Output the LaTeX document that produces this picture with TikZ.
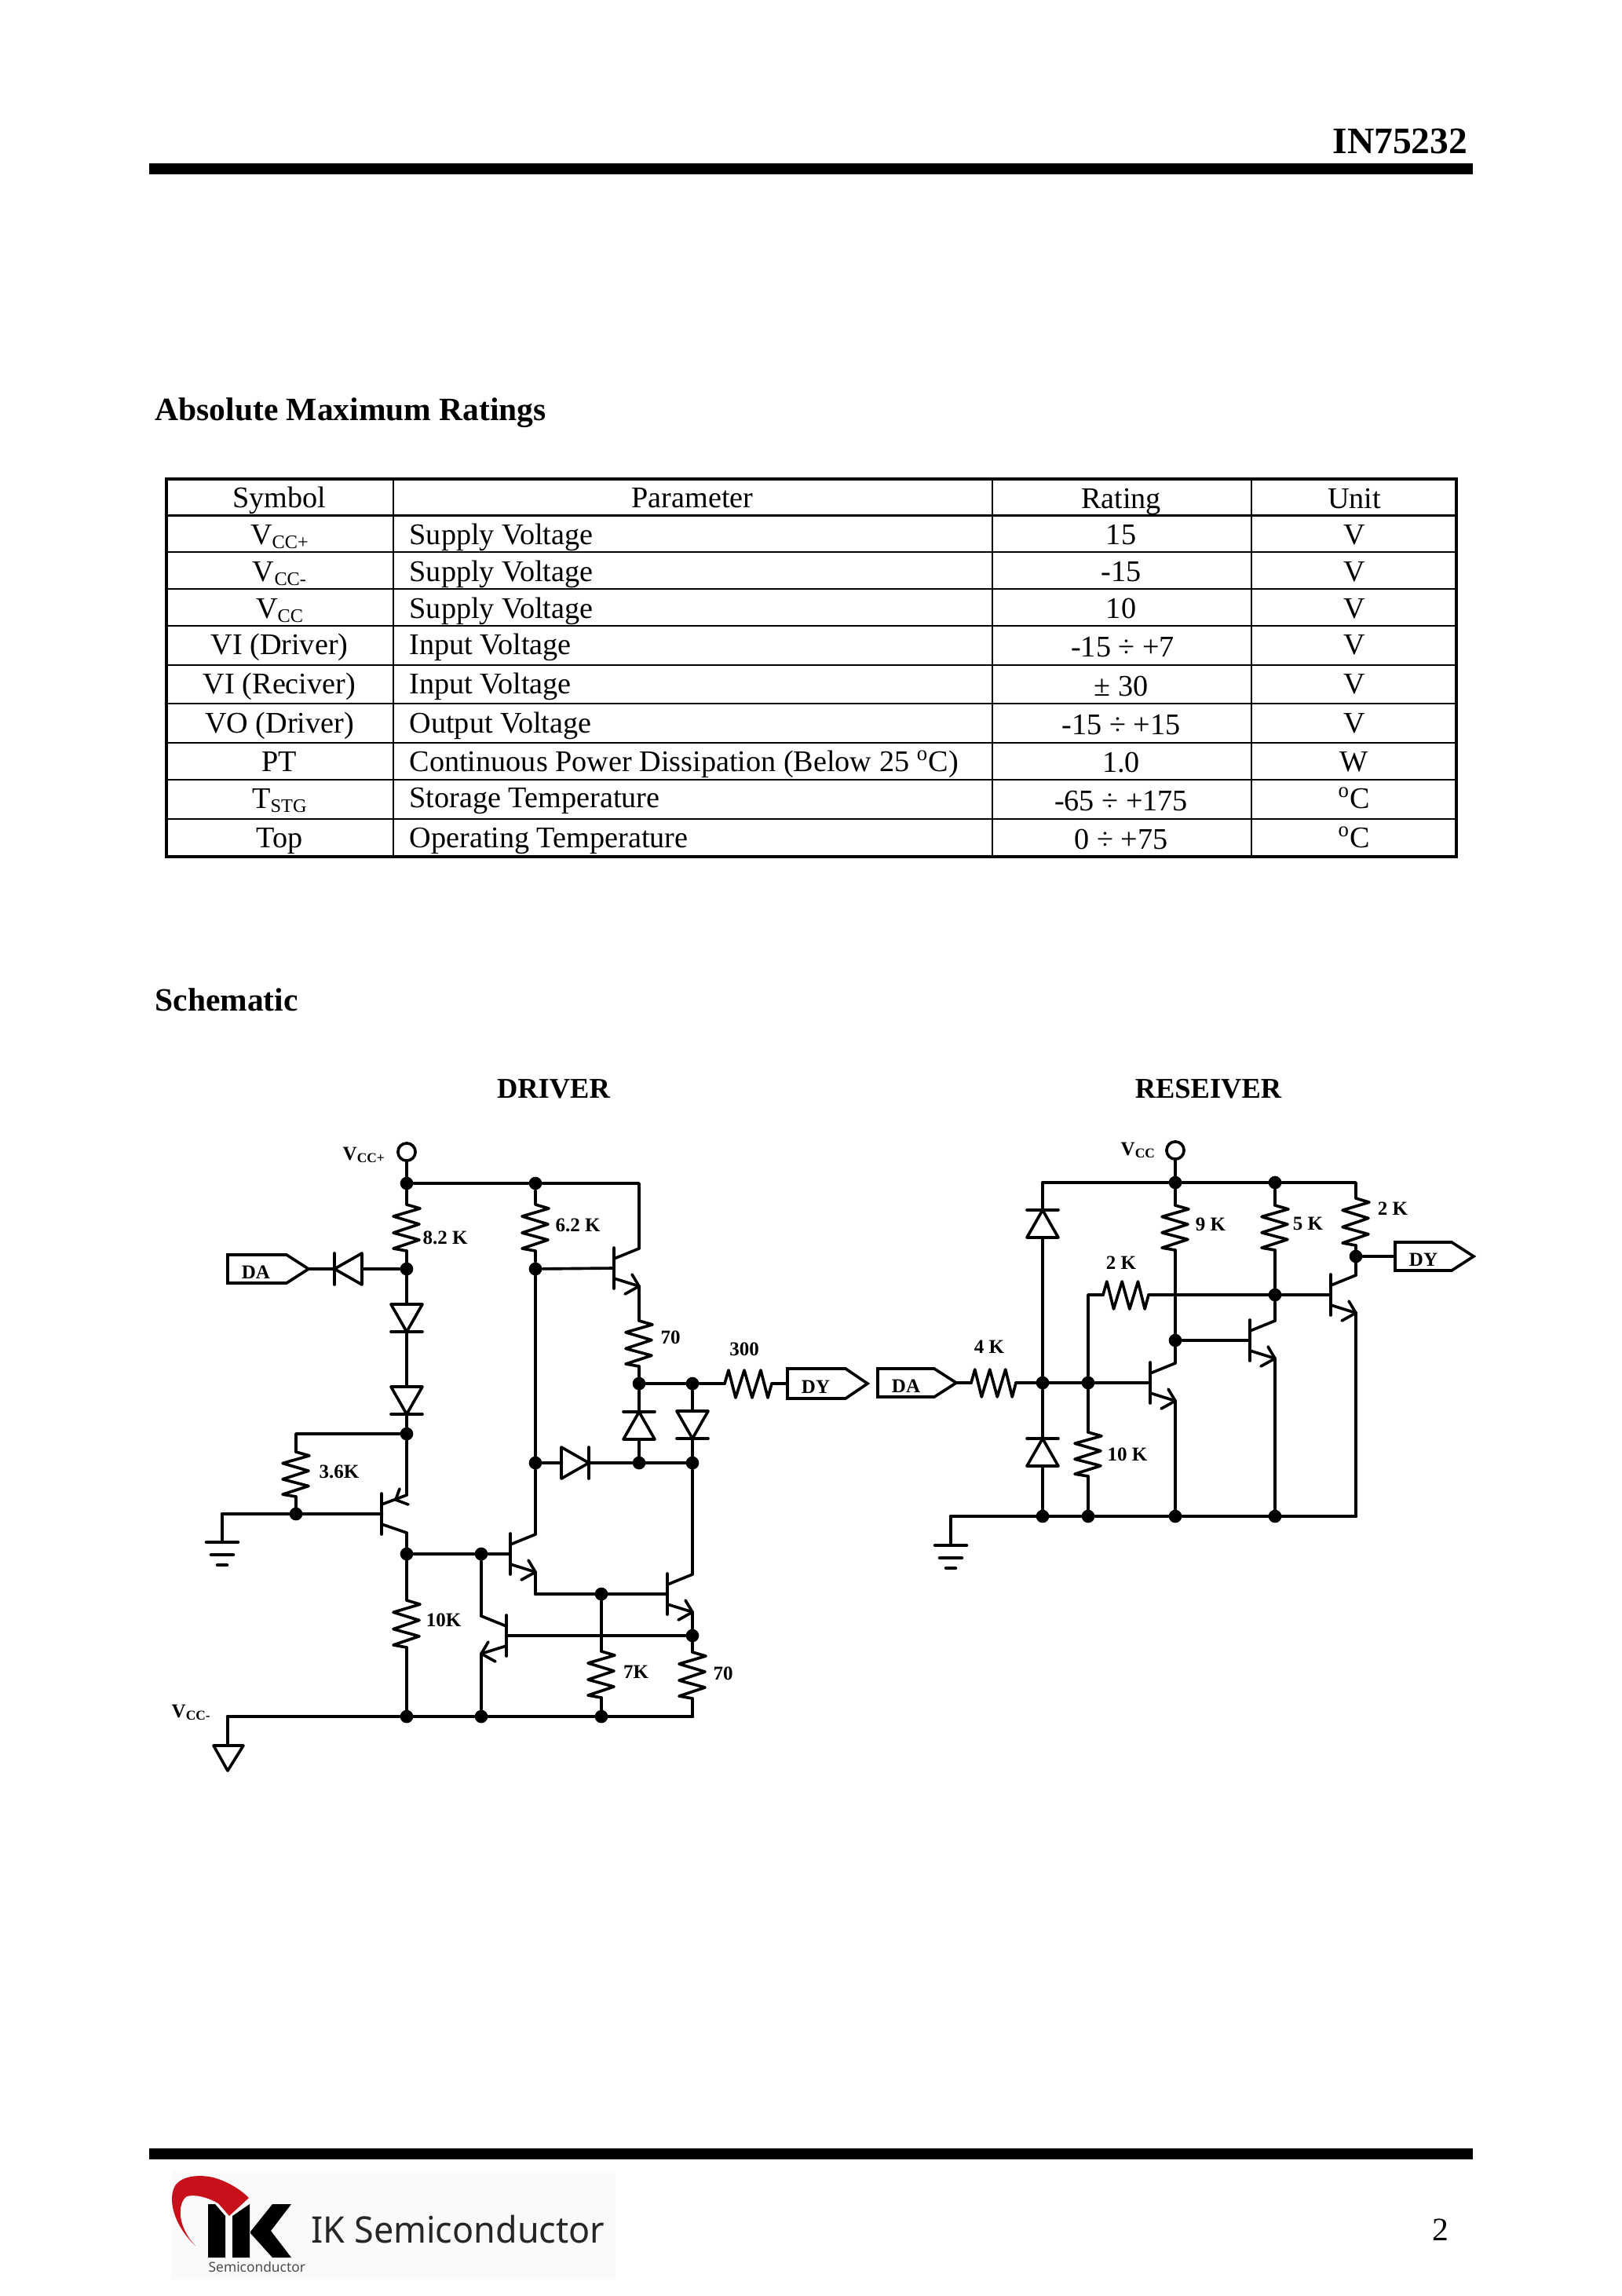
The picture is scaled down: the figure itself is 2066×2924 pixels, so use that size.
\documentclass[tikz,border=0pt]{standalone}
\usepackage{fontspec}
\setmainfont{Liberation Serif}
\newfontfamily\logofont{Noto Sans}
\definecolor{logored}{HTML}{C8101A}
\tikzset{
  wire/.style={line width=1.05pt,line cap=round,line join=round},
  bus/.style={line width=1.3pt,line cap=round,line join=round},
  dot/.style={circle,fill=black,inner sep=0pt,minimum size=4.8pt},
  term/.style={circle,draw,line width=1.05pt,fill=white,inner sep=0pt,minimum size=6.4pt},
  cell/.style={anchor=base,inner sep=0pt,font=\fontsize{11}{13}\selectfont},
  cellL/.style={cell,anchor=base west},
  lab/.style={anchor=base,inner sep=0pt,font=\fontsize{7.2}{9}\selectfont\bfseries},
  head/.style={anchor=base west,inner sep=0pt,font=\fontsize{11.95}{14}\selectfont\bfseries},
  sub/.style={anchor=base,inner sep=0pt,font=\fontsize{10.5}{12}\selectfont\bfseries},
  grid/.style={line width=0.85pt},
  frame/.style={line width=1.3pt}
}
\newcommand\lowr[1]{\raisebox{-1.5pt}{\fontsize{7}{8}\selectfont #1}}
\newcommand\lowb[1]{\raisebox{-1.1pt}{\fontsize{5}{6}\selectfont #1}}
% vertical resistor: name, x, ytop, ybottom
\newcommand\vres[4]{%
  \coordinate (#1-a) at (#2,#3);\coordinate (#1-b) at (#2,#4);
  \begin{scope}[shift={(#2,#3)},yscale=(#4-#3)/59]
    \draw[wire] (0,0)--(17,5)--(-17,15)--(16,25)--(-17,36)--(16,45)--(-17,56)--(0,59);
  \end{scope}}
% horizontal resistor: name, xleft, y, length
\newcommand\hres[4]{%
  \begin{scope}[shift={(#2,#3)},xscale=#4/60]
    \coordinate (#1-a) at (0,0);\coordinate (#1-b) at (60,0);
    \draw[wire] (0,0)--(5,-17)--(14,18)--(25,-17)--(35,18)--(46,-17)--(55,18)--(60,0);
  \end{scope}}
% diode: name, x, y of anode side, rotation
\newcommand\dio[4]{%
  \begin{scope}[shift={(#2,#3)},rotate=#4]
    \coordinate (#1-a) at (0,0);\coordinate (#1-k) at (35,0);
    \draw[wire] (0,-20)--(0,20)--(35,0)--cycle;
    \draw[wire] (35,-20)--(35,20);
  \end{scope}}
% npn: name, barx, y, xscale
\newcommand\bjt[4]{%
  \begin{scope}[shift={(#2,#3)},xscale=#4]
    \coordinate (#1-b) at (0,0);\coordinate (#1-c) at (32,-25);\coordinate (#1-e) at (32,23);
    \draw[wire] (0,-26)--(0,26);
    \draw[wire] (0,-12)--(#1-c);
    \draw[wire] (0,13)--(#1-e);
    \draw[wire] (23,8)--(#1-e)--(14,33);
  \end{scope}}
% pnp: name, barx, y
\newcommand\pnp[3]{%
  \begin{scope}[shift={(#2,#3)}]
    \coordinate (#1-b) at (0,0);\coordinate (#1-e) at (32,-24);\coordinate (#1-c) at (32,24);
    \draw[wire] (0,-26)--(0,26);
    \draw[wire] (0,-12)--(#1-e);
    \draw[wire] (0,13)--(#1-c);
    \draw[wire] (23,-32)--(18,-18)--(34,-12);
  \end{scope}}
% ground: name, x, y
\newcommand\gnd[3]{%
  \coordinate (#1-t) at (#2,#3);
  \begin{scope}[shift={(#2,#3)}]
    \draw[bus] (-20,0)--(20,0);
    \draw[bus] (-14,16)--(14,16);
    \draw[bus] (-6,29)--(6,29);
  \end{scope}}
% tag box: name, x, ytop, h, total width, text
\newcommand\tagbox[6]{%
  \begin{scope}[shift={(#2,#3)}]
    \coordinate (#1-w) at (0,#4/2);\coordinate (#1-e) at (#5,#4/2);
    \draw[wire,line join=miter] (0,0)--(#5-28,0)--(#5,#4/2)--(#5-28,#4)--(0,#4)--cycle;
    \node[lab] (#1-t) at (36,#4/2+12) {#6};
  \end{scope}}
\newcommand\tblcell[4]{\node[cell] (#1) at (#2,#3) {#4};}
\newcommand\tbll[3]{\node[cellL] (#1) at (521,#2) {#3};}
\begin{document}
\begin{tikzpicture}[x=0.288pt,y=-0.288pt]
\useasboundingbox (0,0) rectangle (2066,2924);
% page furniture
\fill (190,208) rectangle (1876,222);
\fill (190,2736) rectangle (1876,2750);
\node[anchor=base east,inner sep=0pt,font=\fontsize{13.7}{16}\selectfont\bfseries] (title) at (1870,195) {IN75232};
\node[head] (h1) at (197,535) {Absolute Maximum Ratings};
\node[head] (h2) at (197,1287) {Schematic};
\node[sub] (h3) at (705,1398) {DRIVER};
\node[sub] (h4) at (1539,1398) {RESEIVER};
% table
\draw[grid] (211,656.5)--(1855,656.5) (211,703)--(1855,703) (211,750)--(1855,750) (211,797)--(1855,797)
  (211,847)--(1855,847) (211,896)--(1855,896) (211,946)--(1855,946) (211,993)--(1855,993) (211,1043)--(1855,1043);
\draw[grid] (501,610)--(501,1091) (1264,610)--(1264,1091) (1594,610)--(1594,1091);
\draw[frame] (212,610) rectangle (1855,1091);
\tblcell{s0}{356}{646}{Symbol}
\tblcell{s1}{356}{693}{V\lowr{CC+}}
\tblcell{s2}{356}{740}{V\lowr{CC-}}
\tblcell{s3}{356}{787}{V\lowr{CC}}
\tblcell{s4}{356}{833}{VI (Driver)}
\tblcell{s5}{356}{883}{VI (Reciver)}
\tblcell{s6}{356}{933}{VO (Driver)}
\tblcell{s7}{356}{982}{PT}
\tblcell{s8}{356}{1029}{T\lowr{STG}}
\tblcell{s9}{356}{1079}{Top}
\tblcell{p0}{882}{646}{Parameter}
\tbll{p1}{693}{Supply Voltage}
\tbll{p2}{740}{Supply Voltage}
\tbll{p3}{787}{Supply Voltage}
\tbll{p4}{833}{Input Voltage}
\tbll{p5}{883}{Input Voltage}
\tbll{p6}{933}{Output Voltage}
\tbll{p7}{982}{Continuous Power Dissipation (Below 25 \textsuperscript{o}C)}
\tbll{p8}{1028}{Storage Temperature}
\tbll{p9}{1079}{Operating Temperature}
\tblcell{r0}{1428}{647}{Rating}
\tblcell{r1}{1428}{693}{15}
\tblcell{r2}{1428}{740}{-15}
\tblcell{r3}{1428}{787}{10}
\tblcell{r4}{1430}{836}{-15 ÷ +7}
\tblcell{r5}{1428}{886}{± 30}
\tblcell{r6}{1428}{935}{-15 ÷ +15}
\tblcell{r7}{1428}{983}{1.0}
\tblcell{r8}{1428}{1032}{-65 ÷ +175}
\tblcell{r9}{1428}{1081}{0 ÷ +75}
\tblcell{u0}{1725}{647}{Unit}
\tblcell{u1}{1725}{693}{V}
\tblcell{u2}{1725}{740}{V}
\tblcell{u3}{1725}{787}{V}
\tblcell{u4}{1725}{833}{V}
\tblcell{u5}{1725}{883}{V}
\tblcell{u6}{1725}{933}{V}
\tblcell{u7}{1725}{982}{W}
\tblcell{u8}{1725}{1029}{\textsuperscript{o}C}
\tblcell{u9}{1725}{1079}{\textsuperscript{o}C}
%% DRIVER
\node[term] (vp) at (518,1467) {};
\node[dot] (jA) at (518,1507) {};
\node[dot] (jB) at (682,1507) {};
\node[dot] (jC) at (518,1616) {};
\node[dot] (jD) at (682,1616) {};
\node[dot] (jG) at (518,1826) {};
\node[dot] (jH) at (377,1928) {};
\node[dot] (jI) at (518,1979) {};
\node[dot] (jJ) at (613,1979) {};
\node[dot] (jF) at (682,1863) {};
\node[dot] (jK) at (814,1863) {};
\node[dot] (jL) at (882,1863) {};
\node[dot] (jM) at (766,2030) {};
\node[dot] (jO) at (882,2083) {};
\node[dot] (jN) at (766,2186) {};
\node[dot] (jP) at (613,2186) {};
\node[dot] (jQ) at (518,2186) {};
\node[dot] (jR) at (814,1762) {};
\node[dot] (jS) at (882,1762) {};
\coordinate (cTop) at (814,1507);
\coordinate (cG) at (377,1826);
\coordinate (cGnd) at (283,1928);
\coordinate (cBusR) at (882,2186);
\coordinate (cVm) at (290,2186);
\coordinate (cTri) at (290,2223);
\vres{R82}{518}{1534}{1593}
\vres{R62}{682}{1534}{1593}
\vres{R36}{377}{1849}{1906}
\vres{R10}{518}{2038}{2098}
\vres{R7}{766}{2103}{2162}
\vres{R70}{882}{2104}{2163}
\vres{R70u}{814}{1682}{1740}
\hres{R300}{923}{1762}{60}
\tagbox{DA1}{290}{1598}{36}{103}{DA}
\tagbox{DY1}{1003}{1743}{38}{102}{DY}
\dio{d1}{461}{1616}{180}
\dio{d2}{518}{1661}{-90}
\dio{d3}{518}{1766}{-90}
\dio{d4}{715}{1863}{0}
\dio{d5}{814}{1833}{90}
\dio{d6}{882}{1797}{-90}
\pnp{Q1}{486}{1928}
\bjt{Q2}{650}{1979}{1}
\bjt{Q3}{850}{2030}{1}
\bjt{Q4}{645}{2083}{-1}
\bjt{Q5}{782}{1615}{1}
\gnd{G1}{283}{1964}
\draw[wire] (vp)--(jA)--(jB)--(cTop)--(Q5-c);
\draw[wire] (jA)--(R82-a) (R82-b)--(jC)--(d2-a) (d2-k)--(d3-a) (d3-k)--(jG)--(Q1-e);
\draw[wire] (jB)--(R62-a) (R62-b)--(jD)--(Q5-b);
\draw[wire] (DA1-e |- jC)--(d1-k) (d1-a)--(jC);
\draw[wire] (jG)--(cG)--(R36-a) (R36-b)--(jH);
\draw[bus] (cGnd)--(jH)--(Q1-b);
\draw[wire] (cGnd)--(G1-t);
\draw[wire] (Q1-c)--(jI)--(jJ)--(Q2-b);
\draw[wire] (jI)--(R10-a) (R10-b)--(jQ);
\draw[wire] (jD)--(jF)--(Q2-c);
\draw[bus] (jF)--(d4-a) (d4-k)--(jK)--(jL);
\draw[wire] (jL)--(Q3-c);
\draw[bus] (Q2-e |- jM)--(jM)--(Q3-b);
\draw[wire] (Q2-e)--(Q2-e |- jM);
\draw[wire] (jM)--(R7-a) (R7-b)--(jN);
\draw[wire] (Q3-e)--(jO)--(R70-a) (R70-b)--(cBusR);
\draw[bus] (jO)--(Q4-b);
\draw[wire] (jJ)--(Q4-c) (Q4-e)--(jP);
\draw[bus] (cVm)--(jQ)--(jP)--(jN)--(cBusR);
\draw[wire] (cVm)--(cTri);
\draw[wire] (272,2223)--(310,2223)--(290,2255)--cycle;
\draw[wire] (Q5-e)--(R70u-a) (R70u-b)--(jR)--(jS)--(R300-a) (R300-b)--(DY1-w);
\draw[wire] (jR)--(d5-k) (d5-a)--(jK);
\draw[wire] (jS)--(d6-a) (d6-k)--(jL);
\node[lab] (l82) at (567,1584) {8.2 K};
\node[lab] (l62) at (736,1568) {6.2 K};
\node[lab] (l70u) at (854,1711) {70};
\node[lab] (l300) at (948,1726) {300};
\node[lab] (l36) at (432,1882) {3.6K};
\node[lab] (l10) at (565,2071) {10K};
\node[lab] (l7) at (810,2137) {7K};
\node[lab] (l70) at (921,2139) {70};
\node[lab,anchor=base west] (lvp) at (436,1477) {V\lowb{CC+}};
\node[lab,anchor=base west] (lvm) at (218,2187) {V\lowb{CC-}};
%% RECEIVER
\node[term] (vc) at (1497,1465) {};
\node[dot] (jT) at (1497,1506) {};
\node[dot] (jU) at (1624,1506) {};
\node[dot] (jV) at (1328,1761) {};
\node[dot] (jW) at (1328,1931) {};
\node[dot] (jX) at (1386,1931) {};
\node[dot] (jX2) at (1386,1761) {};
\node[dot] (jY) at (1497,1931) {};
\node[dot] (jZ) at (1624,1931) {};
\node[dot] (ja) at (1497,1707) {};
\node[dot] (jb) at (1624,1649) {};
\node[dot] (jc) at (1727,1600) {};
\coordinate (cTL) at (1328,1506);
\coordinate (cTR) at (1727,1506);
\coordinate (cBR) at (1727,1931);
\coordinate (cGL) at (1211,1931);
\coordinate (c2K) at (1386,1649);
\vres{R9}{1497}{1535}{1592}
\vres{R5}{1624}{1535}{1592}
\vres{R2r}{1727}{1526}{1586}
\vres{R10r}{1386}{1824}{1880}
\hres{R4}{1237}{1761}{57}
\hres{R2m}{1405}{1649}{58}
\tagbox{DA2}{1118}{1743}{36}{100}{DA}
\tagbox{DY2}{1777}{1582}{36}{100}{DY}
\dio{d7}{1328}{1576}{90}
\dio{d8}{1328}{1867}{90}
\bjt{Qa}{1465}{1761}{1}
\bjt{Qb}{1592}{1707}{1}
\bjt{Qc}{1695}{1649}{1}
\gnd{G2}{1211}{1968}
\draw[wire] (vc)--(jT);
\draw[wire] (cTL)--(jT)--(jU)--(cTR)--(R2r-a) (R2r-b)--(jc)--(Qc-c);
\draw[wire] (jc)--(DY2-w);
\draw[wire] (cTL)--(d7-k) (d7-a)--(jV)--(d8-k) (d8-a)--(jW);
\draw[wire] (jT)--(R9-a) (R9-b)--(ja)--(Qa-c);
\draw[wire] (jU)--(R5-a) (R5-b)--(jb)--(Qb-c);
\draw[wire] (DA2-e)--(R4-a) (R4-b)--(jV);
\draw[bus] (jV)--(jX2)--(Qa-b);
\draw[wire] (jX2)--(R10r-a) (R10r-b)--(jX);
\draw[wire] (jX2)--(c2K)--(R2m-a) (R2m-b)--(jb)--(Qc-b);
\draw[wire] (ja)--(Qb-b);
\draw[wire] (Qa-e)--(jY) (Qb-e)--(jZ) (Qc-e)--(cBR);
\draw[bus] (cGL)--(jW)--(jX)--(jY)--(jZ)--(cBR);
\draw[wire] (cGL)--(G2-t);
\node[lab] (l9) at (1542,1567) {9 K};
\node[lab] (l5) at (1666,1566) {5 K};
\node[lab] (l2r) at (1774,1547) {2 K};
\node[lab] (l2m) at (1428,1616) {2 K};
\node[lab] (l4) at (1260,1723) {4 K};
\node[lab] (l10r) at (1436,1860) {10 K};
\node[lab,anchor=base west] (lvc) at (1427,1471) {V\lowb{CC}};
%% LOGO
\fill[black!2] (219,2765) rectangle (784,2903);
\fill[logored] (249,2860) .. controls (222,2835) and (212,2800) .. (224,2782)
  .. controls (236,2768) and (262,2770) .. (275,2774)
  .. controls (297,2781) and (311,2793) .. (317,2799)
  -- (292,2822) -- (278,2806)
  .. controls (266,2799) and (250,2794) .. (238,2797)
  .. controls (226,2805) and (225,2835) .. (249,2860) -- cycle;
\fill (265,2807) -- (274,2807) -- (287,2822) -- (287,2875) -- (265,2875) -- cycle;
\fill (296,2875) -- (296,2822) -- (318,2807) -- (318,2875) -- cycle;
\fill (319,2842) -- (347,2807) -- (371,2807) -- (345,2841) -- (371,2875) -- (347,2875) -- (319,2844) -- cycle;
\node[anchor=base west,inner sep=0pt,font=\logofont\fontsize{13.4}{15}\selectfont,text=black!85] (logo1) at (396,2856) {\scalebox{0.965}[1]{IK Semiconductor}};
\node[anchor=base west,inner sep=0pt,font=\logofont\fontsize{5}{7}\selectfont,text=black!70] (logo2) at (265,2893) {Semiconductor};
\node[anchor=base,inner sep=0pt,font=\fontsize{12}{14}\selectfont] (pg) at (1835,2853) {2};
\end{tikzpicture}
\end{document}
